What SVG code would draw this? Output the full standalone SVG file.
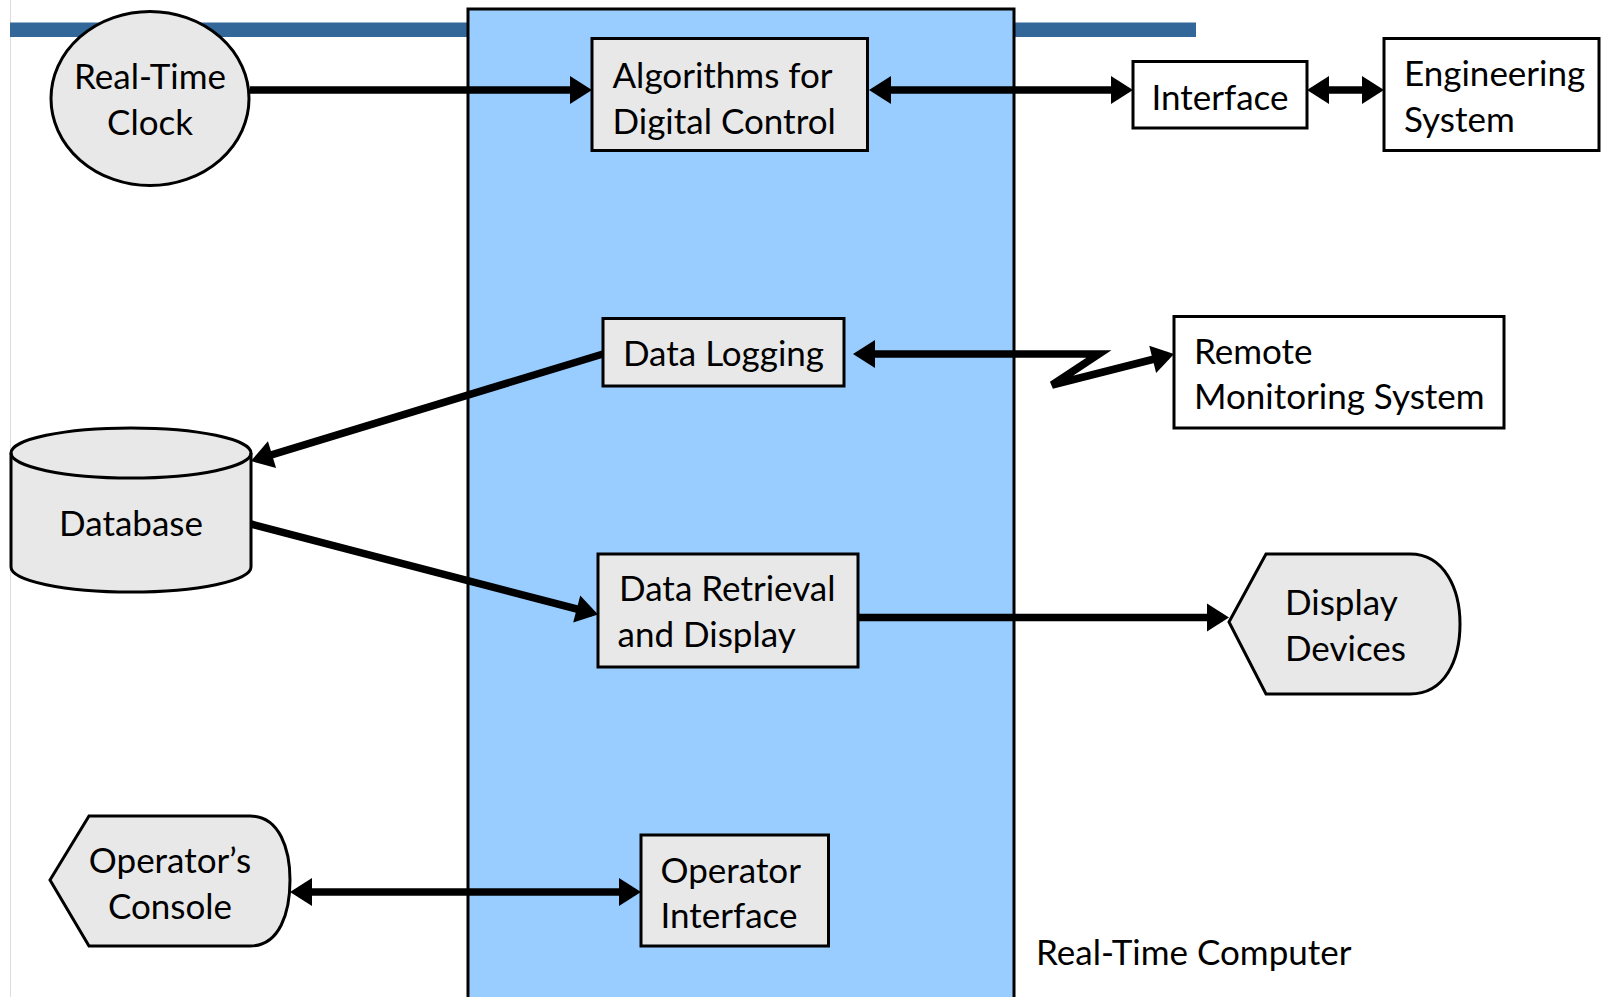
<svg xmlns="http://www.w3.org/2000/svg" width="1606" height="997" viewBox="0 0 1606 997">
<style>
.t{font-family:Lato,"Liberation Sans",sans-serif;font-size:35px;fill:#000}
.g{fill:#e8e8e8;stroke:#000;stroke-width:3}
.w{fill:#fff;stroke:#000;stroke-width:3}
.c{fill:none;stroke:#000;stroke-width:7.5;stroke-linejoin:miter}
</style>
<defs>
<marker id="ah" markerUnits="userSpaceOnUse" markerWidth="30" markerHeight="30" viewBox="0 -15 24 30" refX="16" refY="0" orient="auto-start-reverse">
<path d="M0,-14 L22,0 L0,14 Z" fill="#000"/>
</marker>
</defs>
<rect x="0" y="0" width="1606" height="997" fill="#fff"/>
<line x1="10.5" y1="0" x2="10.5" y2="997" stroke="#dcdcdc" stroke-width="1"/>
<rect x="10" y="22.5" width="1186" height="14.5" fill="#336699"/>
<g id="computer">
<rect x="468" y="9" width="546" height="1000" fill="#99ccff" stroke="#000" stroke-width="3"/>
<text class="t" x="1036" y="965">Real-Time Computer</text>
</g>
<g id="connectors">
<line class="c" x1="250" y1="90" x2="586" y2="90" marker-end="url(#ah)"/>
<line class="c" x1="875" y1="90" x2="1127" y2="90" marker-start="url(#ah)" marker-end="url(#ah)"/>
<line class="c" x1="1313" y1="90" x2="1378" y2="90" marker-start="url(#ah)" marker-end="url(#ah)"/>
<polyline class="c" points="859,354 1099,354 1052,385 1168.2,355.5" marker-start="url(#ah)" marker-end="url(#ah)"/>
<line class="c" x1="603" y1="354" x2="256.7" y2="459.3" marker-end="url(#ah)"/>
<line class="c" x1="251" y1="524" x2="592.2" y2="613" marker-end="url(#ah)"/>
<line class="c" x1="858" y1="617.5" x2="1223" y2="617.5" marker-end="url(#ah)"/>
<line class="c" x1="296" y1="892" x2="635" y2="892" marker-start="url(#ah)" marker-end="url(#ah)"/>
</g>
<g id="clock">
<ellipse class="g" cx="150" cy="98.5" rx="99" ry="87"/>
<text class="t" x="150" y="89" text-anchor="middle">Real-Time</text>
<text class="t" x="150" y="135" text-anchor="middle">Clock</text>
</g>
<g id="algorithms">
<rect class="g" x="592" y="38.5" width="275.5" height="112"/>
<text class="t" x="612.5" y="88">Algorithms for</text>
<text class="t" x="612.5" y="134">Digital Control</text>
</g>
<g id="interface">
<rect class="w" x="1133" y="61.5" width="174" height="66.5"/>
<text class="t" x="1220" y="110" text-anchor="middle">Interface</text>
</g>
<g id="engineering">
<rect class="w" x="1384" y="38.5" width="215" height="112"/>
<text class="t" x="1404" y="86">Engineering</text>
<text class="t" x="1404" y="132">System</text>
</g>
<g id="datalogging">
<rect class="g" x="603" y="318.5" width="241" height="67.5"/>
<text class="t" x="723.5" y="366" text-anchor="middle">Data Logging</text>
</g>
<g id="remote">
<rect class="w" x="1174" y="316.5" width="330" height="111.5"/>
<text class="t" x="1194" y="364">Remote</text>
<text class="t" x="1194" y="409">Monitoring System</text>
</g>
<g id="database">
<path class="g" d="M11,453 L11,567 A120,25 0 0 0 251,567 L251,453 A120,25 0 0 0 11,453 Z"/>
<path fill="none" stroke="#000" stroke-width="3" d="M11,453 A120,25 0 0 0 251,453"/>
<text class="t" x="131" y="536" text-anchor="middle">Database</text>
</g>
<g id="retrieval">
<rect class="g" x="598" y="554" width="260" height="113"/>
<text class="t" x="619" y="601">Data Retrieval</text>
<text class="t" x="617.5" y="647">and Display</text>
</g>
<g id="display">
<path class="g" d="M1229,622 L1266,554 L1410,554 C1445,554 1460,590 1460,624 C1460,660 1445,694 1410,694 L1266,694 Z"/>
<text class="t" x="1285" y="614.5">Display</text>
<text class="t" x="1285" y="660.5">Devices</text>
</g>
<g id="console">
<path class="g" d="M50,880 L89,816 L250,816 C280,816 290,850 290,880 C290,912 280,946 250,946 L89,946 Z"/>
<text class="t" x="170" y="873" text-anchor="middle">Operator’s</text>
<text class="t" x="170" y="919" text-anchor="middle">Console</text>
</g>
<g id="operatorinterface">
<rect class="g" x="641" y="835" width="187.5" height="111"/>
<text class="t" x="660.5" y="883">Operator</text>
<text class="t" x="660.5" y="928">Interface</text>
</g>
</svg>
